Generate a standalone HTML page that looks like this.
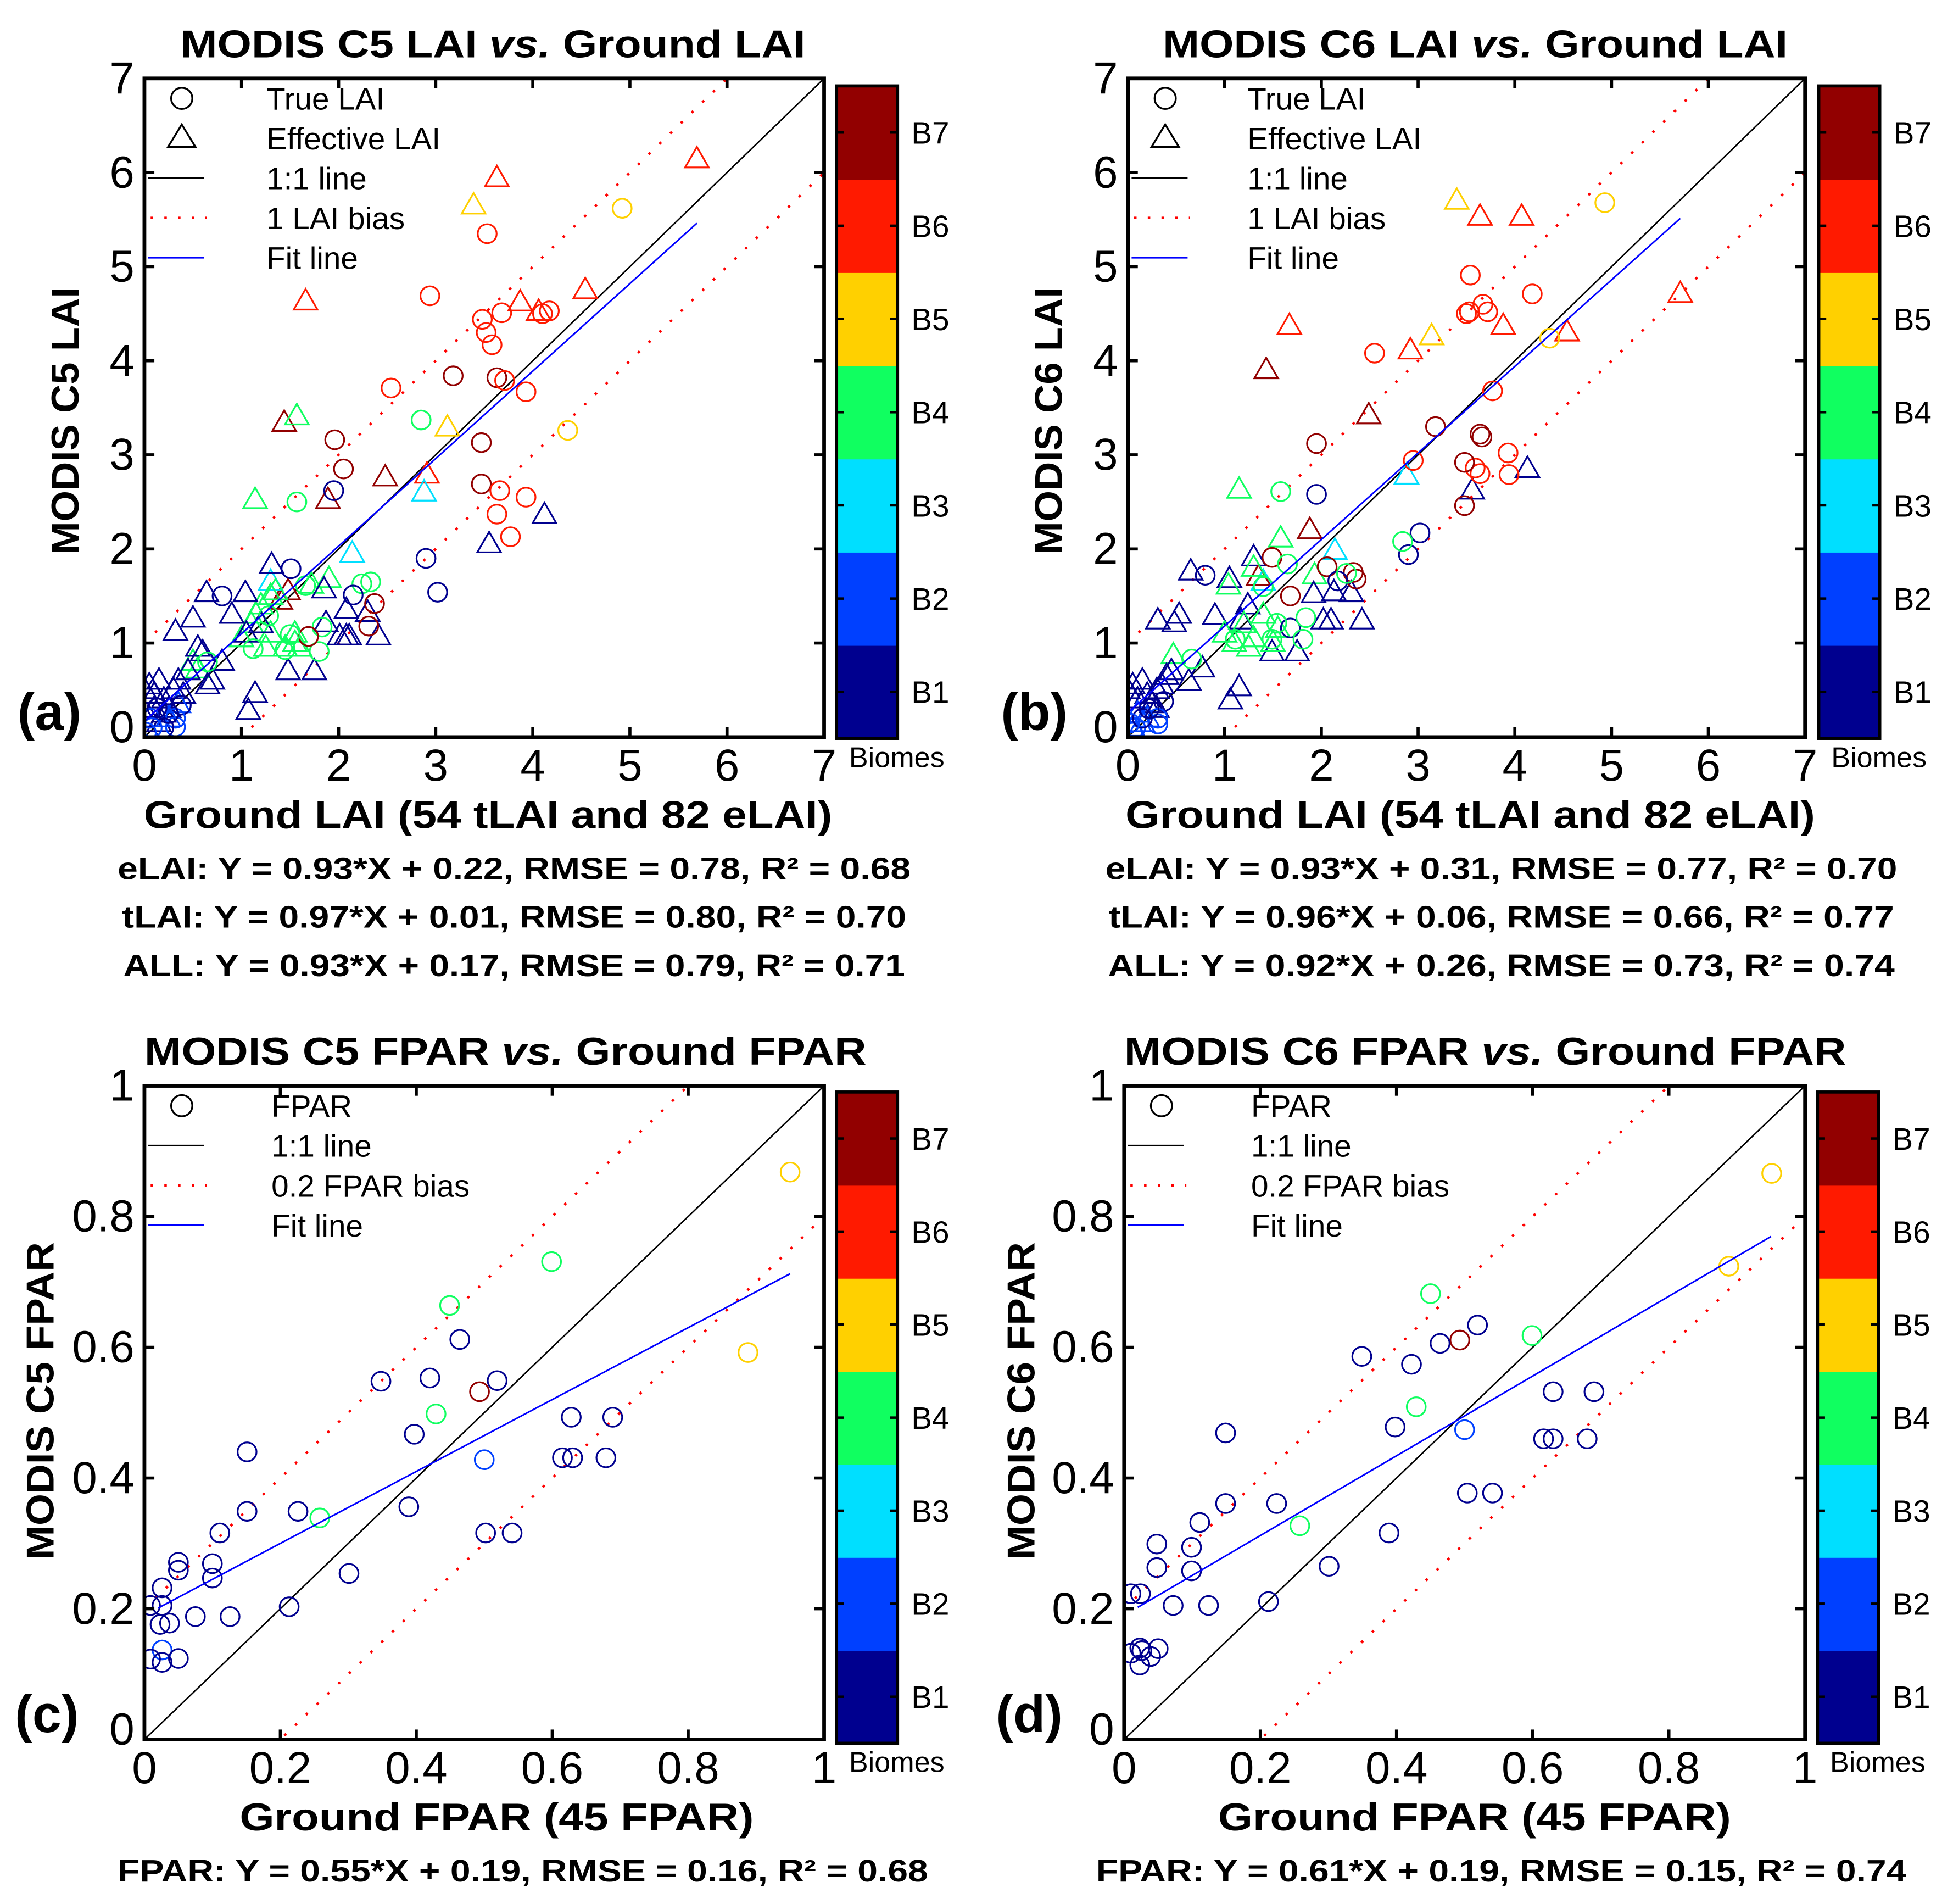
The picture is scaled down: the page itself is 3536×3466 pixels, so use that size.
<!DOCTYPE html>
<html><head><meta charset="utf-8"><style>
html,body{margin:0;padding:0;background:#fff;}
svg{display:block;}
text{font-family:"Liberation Sans",Arial,sans-serif;}
</style></head>
<body>
<svg id="fig" xmlns="http://www.w3.org/2000/svg" width="3536" height="3466" viewBox="0 0 1560 1529.1" preserveAspectRatio="none">
<rect x="0" y="0" width="1560" height="1530" fill="#fff"/>
</svg>
<script>
// ---------- Data ----------
const biomeLabels = ['B1','B2','B3','B4','B5','B6','B7'];
const biomeColors = ['#00008f','#0040ff','#00dfff','#10ff60','#ffd000','#ff1a00','#920000'];

// Panel (a) MODIS C5 LAI - true LAI (circles)
const aTrueX = [4.92,3.53,2.94,3.48,3.52,3.58,3.68,4.17,4.10,3.18,3.63,3.71,3.93,2.54,2.85,1.96,2.05,3.47,3.47,3.66,3.93,3.63,3.77,4.36,1.95,1.57,2.90,3.02,1.51,0.80,2.33,2.24,2.15,2.37,2.31,1.66,1.83,1.80,1.69,1.12,1.45,1.50,1.28,0.38,0.32,0.32,0.06,0.13,0.20,0.25,0.02,0.08,0.65];
const aTrueY = [5.62,5.35,4.69,4.44,4.30,4.17,4.51,4.53,4.50,3.84,3.82,3.79,3.67,3.71,3.37,3.16,2.85,3.13,2.69,2.62,2.55,2.37,2.13,3.26,2.62,2.50,1.90,1.54,1.79,1.50,1.65,1.63,1.51,1.42,1.18,1.61,1.17,0.91,1.07,0.94,0.93,1.09,1.29,0.34,0.20,0.11,0.20,0.31,0.10,0.25,0.05,0.10,0.80];
const aTrueB = [5,6,6,6,6,6,6,6,6,7,7,6,6,6,4,7,7,7,7,6,6,6,6,5,1,4,1,1,1,1,4,4,1,7,7,4,4,4,7,4,4,4,4,1,2,2,2,1,1,1,2,2,4];
// Panel (a) effective LAI (triangles)
const aEffX = [5.69,3.63,1.66,4.54,3.87,4.06,2.91,3.39,3.12,1.44,2.48,1.89,1.48,1.40,2.88,2.14,1.30,1.14,1.57,1.00,1.10,1.15,1.20,1.25,1.30,1.35,1.45,1.55,1.55,1.60,1.30,0.50,0.55,1.72,1.90,1.31,1.04,0.64,0.50,0.32,0.55,0.60,1.85,2.08,2.30,2.41,2.01,2.08,2.11,1.87,1.48,1.75,1.14,1.07,0.80,0.70,0.65,4.12,3.55,0.90,1.05,1.20,0.00,0.05,0.10,0.15,0.20,0.10,0.25,0.30,0.35,0.40,0.05,0.15,0.20,0.45,0.25,0.35];
const aEffY = [6.14,5.94,4.63,4.75,4.62,4.52,2.79,5.65,3.29,3.34,2.76,2.52,1.55,1.45,2.60,1.95,1.65,2.52,3.41,1.05,1.20,1.30,1.40,0.95,1.50,1.55,0.95,1.00,1.10,0.95,1.10,0.80,0.72,1.62,1.68,1.83,1.53,1.53,1.26,1.12,0.95,0.90,1.57,1.35,1.32,1.07,1.07,1.07,1.07,1.21,0.70,0.70,0.46,0.28,0.80,0.60,0.55,2.36,2.05,1.30,1.10,1.20,0.50,0.55,0.45,0.60,0.40,0.30,0.30,0.50,0.60,0.45,0.20,0.15,0.25,0.70,0.20,0.35];
const aEffB = [6,6,6,6,6,6,6,5,5,7,7,7,7,7,3,3,3,4,4,4,4,4,4,4,4,4,4,4,4,4,4,4,4,4,4,1,1,1,1,1,1,1,1,1,1,1,1,1,1,1,1,1,1,1,1,1,1,1,1,1,1,1,1,1,1,1,1,1,1,1,1,1,1,1,1,1,2,2];

// Panel (b) MODIS C6 LAI - true LAI (circles)
const bTrueX = [4.93,4.36,3.54,4.18,3.50,3.53,3.67,3.72,2.55,3.77,3.93,3.94,3.59,3.64,2.95,3.18,3.64,3.66,3.48,3.48,1.95,1.68,2.06,2.33,2.36,1.49,1.95,3.02,2.90,0.80,2.17,1.68,1.58,2.84,1.65,2.26,1.84,1.81,1.11,1.49,1.54,0.66,1.40,0.37,0.31,0.31,0.08,0.05,0.15,0.22,0.02];
const bTrueY = [5.68,4.24,4.91,4.71,4.50,4.52,4.60,4.52,4.08,3.68,3.02,2.79,2.86,2.80,2.94,3.30,3.22,3.19,2.92,2.46,3.12,1.50,1.81,1.75,1.68,1.91,2.58,2.17,1.94,1.72,1.66,1.16,2.61,2.08,1.84,1.74,1.27,1.04,1.04,1.04,1.21,0.83,1.60,0.38,0.20,0.14,0.10,0.05,0.20,0.30,0.15];
const bTrueB = [5,5,6,6,6,6,6,6,6,6,6,6,6,6,6,7,7,7,7,7,7,7,7,7,7,7,1,1,1,1,1,1,4,4,4,4,4,4,4,4,4,4,4,1,2,2,2,2,1,1,2];
// Panel (b) effective LAI (triangles)
const bEffX = [3.40,3.64,4.07,5.71,1.67,3.14,4.54,3.88,2.92,1.43,2.49,2.88,4.13,3.56,1.15,1.88,2.14,1.58,1.30,0.65,1.05,1.35,1.40,1.04,1.30,1.93,1.92,2.13,2.31,2.02,2.10,2.42,1.49,1.75,0.53,0.48,0.31,0.90,1.24,1.17,1.00,1.10,1.20,1.30,1.40,1.50,1.55,1.25,0.47,0.77,0.63,0.40,1.15,1.06,0.00,0.05,0.10,0.15,0.20,0.25,0.30,0.35,0.10,0.20,0.05,0.45,0.15,0.30];
const bEffY = [5.70,5.53,5.53,4.71,4.37,4.26,4.30,4.37,4.11,3.90,3.42,2.78,2.85,2.62,2.63,2.20,1.98,2.11,1.91,1.76,1.68,1.70,1.65,1.61,1.80,1.72,1.52,1.54,1.53,1.24,1.24,1.24,0.90,0.90,1.30,1.21,1.24,1.29,1.40,1.24,1.10,1.00,1.20,1.05,1.30,1.00,1.15,0.95,0.87,0.73,0.59,0.65,0.53,0.39,0.50,0.55,0.40,0.60,0.45,0.35,0.50,0.55,0.25,0.20,0.10,0.70,0.15,0.30];
const bEffB = [5,6,6,6,6,5,6,6,6,7,7,3,1,1,4,7,3,4,1,1,1,7,3,4,4,4,1,1,1,1,1,1,1,1,1,1,1,1,1,1,4,4,4,4,4,4,4,4,4,1,1,1,1,1,1,1,1,1,1,1,1,1,2,2,2,1,2,1];

// Panel (c) MODIS C5 FPAR
const cX = [0.950,0.888,0.599,0.449,0.429,0.258,0.493,0.500,0.026,0.464,0.348,0.420,0.519,0.397,0.151,0.628,0.689,0.615,0.630,0.679,0.389,0.151,0.226,0.502,0.541,0.111,0.301,0.050,0.050,0.100,0.100,0.026,0.009,0.026,0.023,0.037,0.075,0.126,0.213,0.009,0.026,0.050];
const cY = [0.868,0.592,0.731,0.664,0.498,0.339,0.532,0.428,0.137,0.612,0.548,0.553,0.549,0.467,0.440,0.493,0.493,0.431,0.431,0.431,0.356,0.349,0.349,0.316,0.316,0.316,0.254,0.271,0.259,0.269,0.247,0.232,0.205,0.205,0.176,0.178,0.188,0.188,0.203,0.123,0.118,0.124];
const cB = [5,5,4,4,4,4,7,2,2,1,1,1,1,1,1,1,1,1,1,1,1,1,1,1,1,1,1,1,1,1,1,1,1,1,1,1,1,1,1,1,1,1];

// Panel (d) MODIS C6 FPAR
const dX = [0.951,0.888,0.450,0.599,0.429,0.258,0.493,0.500,0.023,0.349,0.422,0.464,0.519,0.398,0.149,0.630,0.690,0.616,0.630,0.680,0.504,0.541,0.389,0.224,0.149,0.111,0.048,0.048,0.099,0.099,0.301,0.010,0.024,0.072,0.124,0.212,0.010,0.023,0.039,0.050,0.026];
const dY = [0.866,0.724,0.682,0.618,0.509,0.327,0.611,0.474,0.140,0.586,0.574,0.606,0.634,0.478,0.469,0.532,0.532,0.460,0.460,0.460,0.377,0.377,0.316,0.361,0.361,0.332,0.299,0.263,0.294,0.258,0.265,0.223,0.223,0.205,0.205,0.211,0.132,0.114,0.127,0.139,0.136];
const dB = [5,5,4,4,4,4,7,2,1,1,1,1,1,1,1,1,1,1,1,1,1,1,1,1,1,1,1,1,1,1,1,1,1,1,1,1,1,1,1,1,1];

// Fit coefficients [slope, intercept, xStart, xEnd]
const fitA = [0.93, 0.17, 0.0, 5.69];
const fitB = [0.92, 0.26, 0.0, 5.71];
const fitC = [0.55, 0.19, 0.02, 0.95];
const fitD = [0.61, 0.19, 0.02, 0.95];

const lai_ticks = ['0','1','2','3','4','5','6','7'];
const fpar_ticks = ['0','0.2','0.4','0.6','0.8','1'];

// ---------- Drawing ----------
const NS = 'http://www.w3.org/2000/svg';
const svg = document.getElementById('fig');
function el(tag, attrs, parent) {
  const e = document.createElementNS(NS, tag);
  for (const k in attrs) e.setAttribute(k, attrs[k]);
  (parent || svg).appendChild(e);
  return e;
}
function txt(s, attrs, parent) { const t = el('text', attrs, parent); t.textContent = s; return t; }

function panel(cfg) {
  const g = el('g', {});
  
  
  const L = cfg.L, R = cfg.R, T = cfg.T, B = cfg.B, max = cfg.max;
  const sx = v => L + (R - L) * v / max;
  const sy = v => B - (B - T) * v / max;

  const title = txt('', {x: cfg.titleX, y: T - 17, 'text-anchor': 'middle', 'font-size': 31, 'font-weight': 'bold', textLength: cfg.titleW, lengthAdjust: 'spacingAndGlyphs'}, g);
  
  
  const t1 = el('tspan', {}, title); t1.textContent = cfg.title[0] + ' ';
  const t2 = el('tspan', {'font-style': 'italic'}, title); t2.textContent = 'vs.';
  const t3 = el('tspan', {}, title); t3.textContent = ' ' + cfg.title[1];

  const cp = el('clipPath', {id: 'clip-' + cfg.id}, g);
  el('rect', {x: L, y: T, width: R - L, height: B - T}, cp);
  const plot = el('g', {'clip-path': 'url(#clip-' + cfg.id + ')'}, g);
  
  

  [cfg.bias, -cfg.bias].forEach(b => {
    const ln = el('line', {x1: sx(0), y1: sy(0 + b), x2: sx(max), y2: sy(max + b), stroke: '#ff0000', 'stroke-width': 2, 'stroke-dasharray': '2 10'}, plot);
    
    
  });
  const one = el('line', {x1: sx(0), y1: sy(0), x2: sx(max), y2: sy(max), stroke: '#000', 'stroke-width': 1.2}, plot);
  
  

  function circle(x, y, b) {
    const c = el('circle', {cx: sx(x), cy: sy(y), r: 7.6, fill: 'none', stroke: biomeColors[b - 1], 'stroke-width': 1.4}, plot);
    
    
  }
  function tri(x, y, b) {
    const X = sx(x), Y = sy(y);
    const p = el('path', {d: `M${X - 9.5},${Y + 6.5} L${X + 9.5},${Y + 6.5} L${X},${Y - 10} Z`, fill: 'none', stroke: biomeColors[b - 1], 'stroke-width': 1.4}, plot);
    
    
  }
  if (cfg.effX) cfg.effX.forEach((x, i) => tri(x, cfg.effY[i], cfg.effB[i]));
  cfg.trueX.forEach((x, i) => circle(x, cfg.trueY[i], cfg.trueB[i]));

  const f = cfg.fit;
  const fl = el('line', {x1: sx(f[2]), y1: sy(f[0] * f[2] + f[1]), x2: sx(f[3]), y2: sy(f[0] * f[3] + f[1]), stroke: '#0000ff', 'stroke-width': 1.3}, plot);
  
  

  const fr = el('rect', {x: L, y: T, width: R - L, height: B - T, fill: 'none', stroke: '#000', 'stroke-width': 3}, g);
  
  

  const step = max / (cfg.ticks.length - 1);
  cfg.ticks.forEach((lab, i) => {
    const v = i * step;
    const X = sx(v), Y = sy(v);
    el('line', {x1: X, y1: B, x2: X, y2: B - 8, stroke: '#000', 'stroke-width': 2.5}, g);
    el('line', {x1: X, y1: T, x2: X, y2: T + 8, stroke: '#000', 'stroke-width': 2.5}, g);
    el('line', {x1: L, y1: Y, x2: L + 8, y2: Y, stroke: '#000', 'stroke-width': 2.5}, g);
    el('line', {x1: R, y1: Y, x2: R - 8, y2: Y, stroke: '#000', 'stroke-width': 2.5}, g);
    const xt = txt(lab, {x: X, y: B + 35, 'text-anchor': 'middle', 'font-size': 36}, g);
    
    
    const yt = txt(lab, {x: L - 8, y: Y + 12 - (i === 0 ? 8 : 0), 'text-anchor': 'end', 'font-size': 36}, g);
    
    
  });

  const xl = txt(cfg.xlabel, {x: (L + R) / 2 + cfg.xlOff, y: B + 73, 'text-anchor': 'middle', 'font-size': 31, 'font-weight': 'bold', textLength: cfg.xlW, lengthAdjust: 'spacingAndGlyphs'}, g);
  
  
  const yl = txt(cfg.ylabel, {x: 0, y: 0, 'text-anchor': 'middle', 'font-size': 31, 'font-weight': 'bold', textLength: cfg.ylW, lengthAdjust: 'spacingAndGlyphs', transform: `translate(${cfg.ylX},${cfg.ylY}) rotate(-90)`}, g);
  
  

  const pl = txt(cfg.letter, {x: cfg.letterX, y: B - 6, 'font-size': 42, 'font-weight': 'bold'}, g);
  
  

  cfg.eqs.forEach((e, i) => {
    const et = txt(e[0], {x: cfg.eqX, y: B + 114 + i * 39, 'text-anchor': 'middle', 'font-size': 25, 'font-weight': 'bold', textLength: e[1], lengthAdjust: 'spacingAndGlyphs'}, g);
    
    
  });

  const lg = el('g', {}, g);
  
  
  const mx = L + 30, tx = L + cfg.legTx;
  cfg.legend.forEach((item, i) => {
    const Y = T + 16 + i * 32;
    if (item[0] === 'c') el('circle', {cx: mx, cy: Y, r: 8.5, fill: 'none', stroke: '#000', 'stroke-width': 1.5}, lg);
    if (item[0] === 't') el('path', {d: `M${mx - 11},${Y + 7} L${mx + 11},${Y + 7} L${mx},${Y - 11} Z`, fill: 'none', stroke: '#000', 'stroke-width': 1.5}, lg);
    if (item[0] === 'k') el('line', {x1: L + 3, y1: Y, x2: L + 48, y2: Y, stroke: '#000', 'stroke-width': 1.3}, lg);
    if (item[0] === 'r') el('line', {x1: L + 5, y1: Y, x2: L + 50, y2: Y, stroke: '#ff0000', 'stroke-width': 2, 'stroke-dasharray': '2 9'}, lg);
    if (item[0] === 'b') el('line', {x1: L + 3, y1: Y, x2: L + 48, y2: Y, stroke: '#0000ff', 'stroke-width': 1.3}, lg);
    const lt = txt(item[1], {x: tx, y: Y + 9, 'font-size': 25}, lg);
    
    
  });

  const cb = el('g', {}, g);
  
  
  const cL = cfg.cbL, cW = 49, cT = cfg.cbT, cB2 = cfg.cbB, segH = (cB2 - cT) / 7;
  biomeColors.forEach((col, i) => {
    const y0 = cB2 - (i + 1) * segH;
    const r = el('rect', {x: cL, y: y0, width: cW, height: segH + 0.5, fill: col}, cb);
    
    
    const yc = y0 + segH / 2;
    el('line', {x1: cL, y1: yc, x2: cL + 6, y2: yc, stroke: '#000', 'stroke-width': 2}, cb);
    el('line', {x1: cL + cW, y1: yc, x2: cL + cW - 6, y2: yc, stroke: '#000', 'stroke-width': 2}, cb);
    const bt = txt(biomeLabels[i], {x: cL + cW + 11, y: yc + 9, 'font-size': 25}, cb);
    
    
  });
  el('rect', {x: cL, y: cT, width: cW, height: cB2 - cT, fill: 'none', stroke: '#000', 'stroke-width': 2.5}, cb);
  const bm = txt('Biomes', {x: cL + 10, y: cB2 + 23, 'font-size': 23}, cb);
  
  
}

const laiLegend = [['c','True LAI'],['t','Effective LAI'],['k','1:1 line'],['r','1 LAI bias'],['b','Fit line']];
const fparLegend = [['c','FPAR'],['k','1:1 line'],['r','0.2 FPAR bias'],['b','Fit line']];

panel({id:'a', L:116, R:662, T:63, B:592, max:7, ticks:lai_ticks, bias:1,
  title:['MODIS C5 LAI','Ground LAI'], titleX:396, titleW:502,
  trueX:aTrueX, trueY:aTrueY, trueB:aTrueB, effX:aEffX, effY:aEffY, effB:aEffB, fit:fitA,
  xlabel:'Ground LAI (54 tLAI and 82 eLAI)', xlOff:3, xlW:553,
  ylabel:'MODIS C5 LAI', ylX:63, ylY:338, ylW:215,
  letter:'(a)', letterX:14,
  eqs:[['eLAI: Y = 0.93*X + 0.22, RMSE = 0.78, R² = 0.68',637],['tLAI: Y = 0.97*X + 0.01, RMSE = 0.80, R² = 0.70',630],['ALL: Y = 0.93*X + 0.17, RMSE = 0.79, R² = 0.71',628]],
  eqX:413, legend:laiLegend, legTx:98, cbL:672, cbT:69, cbB:593});

panel({id:'b', L:906, R:1450, T:63, B:592, max:7, ticks:lai_ticks, bias:1,
  title:['MODIS C6 LAI','Ground LAI'], titleX:1185, titleW:502,
  trueX:bTrueX, trueY:bTrueY, trueB:bTrueB, effX:bEffX, effY:bEffY, effB:bEffB, fit:fitB,
  xlabel:'Ground LAI (54 tLAI and 82 eLAI)', xlOff:3, xlW:554,
  ylabel:'MODIS C6 LAI', ylX:853, ylY:338, ylW:215,
  letter:'(b)', letterX:804,
  eqs:[['eLAI: Y = 0.93*X + 0.31, RMSE = 0.77, R² = 0.70',636],['tLAI: Y = 0.96*X + 0.06, RMSE = 0.66, R² = 0.77',631],['ALL: Y = 0.92*X + 0.26, RMSE = 0.73, R² = 0.74',632]],
  eqX:1206, legend:laiLegend, legTx:96, cbL:1461, cbT:69, cbB:593});

panel({id:'c', L:116, R:662, T:872, B:1397, max:1, ticks:fpar_ticks, bias:0.2,
  title:['MODIS C5 FPAR','Ground FPAR'], titleX:406, titleW:580,
  trueX:cX, trueY:cY, trueB:cB, fit:fitC,
  xlabel:'Ground FPAR (45 FPAR)', xlOff:10, xlW:413,
  ylabel:'MODIS C5 FPAR', ylX:43, ylY:1125, ylW:255,
  letter:'(c)', letterX:12,
  eqs:[['FPAR: Y = 0.55*X + 0.19, RMSE = 0.16, R² = 0.68',651]],
  eqX:420, legend:fparLegend, legTx:102, cbL:672, cbT:877, cbB:1400});

panel({id:'d', L:903, R:1450, T:872, B:1397, max:1, ticks:fpar_ticks, bias:0.2,
  title:['MODIS C6 FPAR','Ground FPAR'], titleX:1193, titleW:580,
  trueX:dX, trueY:dY, trueB:dB, fit:fitD,
  xlabel:'Ground FPAR (45 FPAR)', xlOff:8, xlW:412,
  ylabel:'MODIS C6 FPAR', ylX:831, ylY:1125, ylW:255,
  letter:'(d)', letterX:800,
  eqs:[['FPAR: Y = 0.61*X + 0.19, RMSE = 0.15, R² = 0.74',651]],
  eqX:1206, legend:fparLegend, legTx:102, cbL:1460, cbT:877, cbB:1400});
</script>
</body></html>
